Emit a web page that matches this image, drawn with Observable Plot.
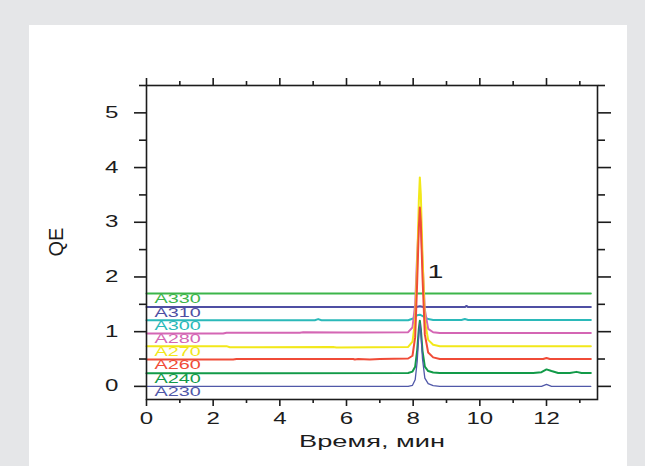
<!DOCTYPE html>
<html><head><meta charset="utf-8">
<script src="https://cdn.jsdelivr.net/npm/d3@7"></script>
<script src="https://cdn.jsdelivr.net/npm/@observablehq/plot@0.6"></script>
<style>
html,body{margin:0;padding:0;background:#e5e6e8;width:645px;height:466px;overflow:hidden}
#panel{position:absolute;left:29px;top:25px;width:598px;height:441px;background:#fff}
#chart{position:absolute;left:0;top:0}
</style></head><body>
<div id="panel"></div><div id="chart"></div>
<script>
const seriesNames = ["A330","A310","A300","A280","A270","A260","A240","A230"];
const seriesColors = ["#3cb54a","#4f4fa3","#2bb9b9","#d466b4","#f2e81a","#f04b37","#129a48","#5058a8"];
const seriesWidths = [2,2,2,2,2,2,2,1.3];

const a330 = [[0,1.70],[13.33,1.70]];
const a310 = [[0,1.45],[8.1,1.45],[8.2,1.465],[8.3,1.45],[9.55,1.45],[9.6,1.47],[9.65,1.45],[13.33,1.45]];
const a300 = [[0,1.21],[5.05,1.21],[5.15,1.23],[5.25,1.21],[7.85,1.21],[8.0,1.24],[8.12,1.3],[8.2,1.31],[8.3,1.28],[8.45,1.23],[8.6,1.215],[9.45,1.215],[9.55,1.23],[9.65,1.215],[13.33,1.215]];
const a280 = [[0,0.965],[2.3,0.965],[2.4,0.98],[4.6,0.98],[4.7,0.99],[5.9,0.985],[6.4,0.985],[7.85,0.99],[7.98,1.08],[8.06,1.5],[8.12,2.4],[8.17,3.0],[8.2,3.1],[8.23,2.95],[8.28,2.3],[8.35,1.4],[8.45,1.05],[8.6,0.99],[8.8,0.975],[13.33,0.975]];
const a270 = [[0,0.735],[2.4,0.735],[2.5,0.715],[5.6,0.72],[5.7,0.71],[7.85,0.72],[7.98,0.82],[8.06,1.2],[8.12,2.2],[8.17,3.4],[8.2,3.82],[8.23,3.5],[8.28,2.4],[8.35,1.2],[8.45,0.85],[8.6,0.76],[8.8,0.735],[13.33,0.735]];
const a260 = [[0,0.49],[2.6,0.49],[2.7,0.5],[6.2,0.5],[6.25,0.49],[6.35,0.5],[6.7,0.49],[7.0,0.5],[7.85,0.51],[7.98,0.56],[8.06,0.9],[8.12,1.9],[8.17,2.9],[8.2,3.27],[8.23,3.0],[8.28,2.0],[8.35,0.95],[8.45,0.62],[8.6,0.53],[8.8,0.5],[11.9,0.5],[12.0,0.52],[12.1,0.5],[13.33,0.5]];
const a240 = [[0,0.24],[7.85,0.245],[7.98,0.27],[8.06,0.36],[8.12,0.66],[8.17,1.05],[8.2,1.2],[8.23,1.05],[8.28,0.65],[8.35,0.36],[8.45,0.28],[8.6,0.255],[8.8,0.245],[11.6,0.245],[11.85,0.26],[12.0,0.31],[12.15,0.28],[12.35,0.245],[12.7,0.245],[12.9,0.265],[13.05,0.245],[13.33,0.245]];
const a230 = [[0,0],[7.85,0],[7.98,0.02],[8.06,0.12],[8.12,0.45],[8.17,0.95],[8.2,1.15],[8.23,1.0],[8.28,0.5],[8.35,0.15],[8.45,0.05],[8.6,0.015],[8.8,0],[11.85,0],[12.0,0.035],[12.15,0],[13.33,0]];
const seriesData = [a330,a310,a300,a280,a270,a260,a240,a230];

const xMajorTicks = [0,2,4,6,8,10,12];
const xMinorTicks = [1,3,5,7,9,11,13];
const yMajorTicks = [0,1,2,3,4,5];
const yMinorTicks = [0.5,1.5,2.5,3.5,4.5,5.5];
const xDomain = [0, 13.53];
const yDomain = [-0.24, 5.5];
const xTitle = "Время, мин";
const yTitle = "QE";
const peakLabels = [{t: 8.67, v: 2.1, label: "1"}];

const labelRows = seriesNames.map((name, i) => ({name, t: seriesData[i][0][0], v: seriesData[i][0][1]}));
const ink = "#1c1c1c";
const empty = () => "";

const plot = Plot.plot({
  width: 645, height: 466,
  marginLeft: 146, marginRight: 48, marginTop: 85, marginBottom: 67,
  style: {background: "transparent", fontFamily: "'Liberation Sans', Arial, sans-serif", color: ink},
  x: {domain: xDomain},
  y: {domain: yDomain},
  color: {domain: seriesNames, range: seriesColors},
  marks: [
    ...seriesNames.map((name, i) => Plot.line(seriesData[i], {x: d => d[0], y: d => d[1], stroke: seriesColors[i], strokeWidth: seriesWidths[i]})),
    Plot.text(labelRows, {x: "t", y: "v", text: "name", fill: "name", textAnchor: "start", lineAnchor: "top", dx: 8, dy: 1, fontSize: 12}),
    Plot.text(peakLabels, {x: "t", y: "v", text: "label", fontSize: 19, fill: ink}),
    Plot.frame({stroke: ink, strokeWidth: 1.6}),
    Plot.axisX({anchor: "bottom", ticks: xMajorTicks, tickSize: 7, tickPadding: 6, fontSize: 16, label: null, stroke: ink, strokeWidth: 1.6, tickFormat: d => String(d)}),
    Plot.axisX({anchor: "bottom", ticks: xMinorTicks, tickSize: 4, label: null, stroke: ink, strokeWidth: 1.6, tickFormat: empty}),
    Plot.axisX({anchor: "top", ticks: xMajorTicks, tickSize: 8, label: null, stroke: ink, strokeWidth: 1.6, tickFormat: empty}),
    Plot.axisX({anchor: "top", ticks: xMinorTicks, tickSize: 5, label: null, stroke: ink, strokeWidth: 1.6, tickFormat: empty}),
    Plot.axisY({anchor: "left", ticks: yMajorTicks, tickSize: 12, tickPadding: 16, fontSize: 16, label: null, stroke: ink, strokeWidth: 1.6, tickFormat: d => String(d)}),
    Plot.axisY({anchor: "left", ticks: yMinorTicks, tickSize: 7, label: null, stroke: ink, strokeWidth: 1.6, tickFormat: empty}),
    Plot.axisY({anchor: "right", ticks: yMajorTicks, tickSize: 13, label: null, stroke: ink, strokeWidth: 1.6, tickFormat: empty}),
    Plot.axisY({anchor: "right", ticks: yMinorTicks, tickSize: 7, label: null, stroke: ink, strokeWidth: 1.6, tickFormat: empty}),
    Plot.text([xTitle], {frameAnchor: "bottom", text: d => d, dy: 42, lineAnchor: "middle", fontSize: 17, fill: ink}),
    Plot.text([yTitle], {frameAnchor: "left", text: d => d, dx: -90, dy: 14, rotate: -90, lineAnchor: "middle", fontSize: 20, fill: ink})
  ]
});
document.getElementById("chart").appendChild(plot);

// horizontal stretch of the text glyphs, as in the original (wide rendering)
const stretchFactor = t => {
  const s = t.textContent;
  if (!s) return 0;
  if (seriesNames.includes(s)) return 1.65;
  if (s === xTitle) return 1.6;
  if (/^\d+$/.test(s) && t.getAttribute("font-size") !== "19") return 1.5;
  return 0;
};
plot.querySelectorAll("text").forEach(t => {
  const f = stretchFactor(t);
  if (!f) return;
  const L = t.getComputedTextLength();
  if (!L) return;
  t.setAttribute("textLength", (L * f).toFixed(1));
  t.setAttribute("lengthAdjust", "spacingAndGlyphs");
});
</script>
</body></html>
